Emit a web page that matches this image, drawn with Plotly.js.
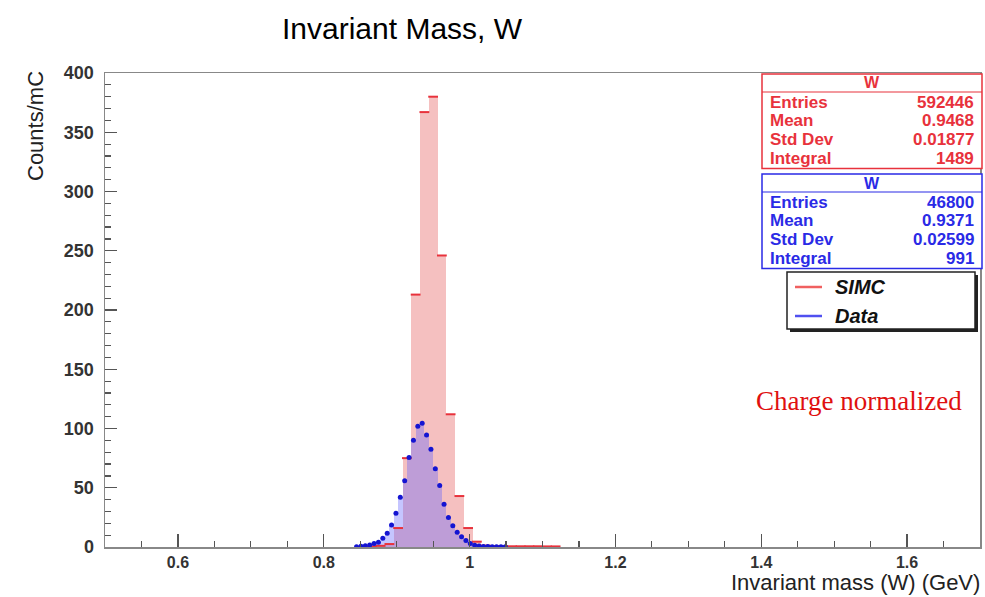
<!DOCTYPE html>
<html>
<head>
<meta charset="utf-8">
<script src="https://cdn.plot.ly/plotly-3.0.1.min.js"></script>
<style>html,body{margin:0;padding:0;background:#fff;}#chart{width:985px;height:597px;}</style>
</head>
<body>
<div id="chart"></div>
<script>
// SIMC histogram (bin width 0.012 GeV), bin centers and counts/mC
const simcX = [0.866, 0.878, 0.890, 0.902, 0.914, 0.926, 0.938, 0.950, 0.962, 0.974, 0.986, 0.998, 1.010, 1.022, 1.034, 1.046, 1.058, 1.070, 1.082, 1.094, 1.106, 1.118];
const simcY = [0.5, 1.0, 2.5, 16, 75, 213, 367, 380, 246, 112, 43, 16, 4.5, 1.2, 0.8, 0.7, 0.6, 0.6, 0.6, 0.6, 0.5, 0.5];

// Data histogram (bin width 0.006 GeV), bin centers and counts/mC
const dataX = [0.845, 0.851, 0.857, 0.863, 0.869, 0.875, 0.881, 0.887, 0.893, 0.899, 0.905, 0.911, 0.917, 0.923, 0.929, 0.935, 0.941, 0.947, 0.953, 0.959, 0.965, 0.971, 0.977, 0.983, 0.989, 0.995, 1.001, 1.007, 1.013, 1.019, 1.025, 1.031, 1.037, 1.043, 1.049];
const dataY = [0.3, 0.6, 1.0, 1.7, 3.0, 4.0, 7.3, 11.5, 18.6, 28.4, 42, 56, 75.5, 90, 102, 104.5, 94.5, 82.5, 66, 52, 36, 25, 18, 12.4, 8.7, 5.5, 3.0, 1.5, 0.9, 0.5, 0.4, 0.3, 0.3, 0.2, 0.2];

const simcStats = [["Entries", "592446"], ["Mean", "0.9468"], ["Std Dev", "0.01877"], ["Integral", "1489"]];
const dataStats = [["Entries", "46800"], ["Mean", "0.9371"], ["Std Dev", "0.02599"], ["Integral", "991"]];

// plot area in pixels
const L = 105, R = 980, T = 73, B = 547;
const px = x => (x - L) / (R - L);
const py = y => (B - y) / (B - T);

const RED = '#e8323c', BLUE = '#2a2ae6';
const SANS = 'Liberation Sans, Arial, sans-serif';

const traces = [
  {type: 'bar', x: simcX, y: simcY, width: 0.012, marker: {color: 'rgb(245,192,192)', line: {width: 0}}, hoverinfo: 'x+y', showlegend: false},
  {type: 'bar', x: dataX, y: dataY, width: 0.006, marker: {color: 'rgba(95,95,255,0.36)', line: {width: 0}}, hoverinfo: 'x+y', showlegend: false},
  {type: 'scatter', mode: 'markers', x: simcX, y: simcY, marker: {symbol: 'line-ew', size: 7, line: {color: RED, width: 2}}, showlegend: false, cliponaxis: false},
  {type: 'scatter', mode: 'markers', x: dataX, y: dataY, marker: {symbol: 'circle', size: 5, color: '#1414d2'}, showlegend: false}
];

const shapes = [];
const ann = [];
function statBox(top, color, rows) {
  const x0 = 762, x1 = 982, h = 18.6;
  const bottom = top + 18 + rows.length * h + 2;
  shapes.push({type: 'rect', xref: 'paper', yref: 'paper', x0: px(x0), x1: px(x1), y0: py(bottom), y1: py(top), line: {color: color, width: 1.5}, fillcolor: 'white', layer: 'above'});
  shapes.push({type: 'line', xref: 'paper', yref: 'paper', x0: px(x0), x1: px(x1), y0: py(top + 18), y1: py(top + 18), line: {color: color, width: 1.2}, layer: 'above'});
  ann.push({xref: 'paper', yref: 'paper', x: px((x0 + x1) / 2), y: py(top + 9), text: '<b>W</b>', showarrow: false, xanchor: 'center', yanchor: 'middle', font: {family: SANS, size: 16, color: color}});
  rows.forEach((r, i) => {
    const yy = top + 18 + h * (i + 0.5) + 1;
    ann.push({xref: 'paper', yref: 'paper', x: px(x0 + 6), y: py(yy), text: '<b>' + r[0] + '</b>', showarrow: false, xanchor: 'left', yanchor: 'middle', font: {family: SANS, size: 17, color: color}});
    ann.push({xref: 'paper', yref: 'paper', x: px(x1 - 6), y: py(yy), text: '<b>' + r[1] + '</b>', showarrow: false, xanchor: 'right', yanchor: 'middle', font: {family: SANS, size: 17, color: color}});
  });
}
statBox(74, RED, simcStats);
statBox(174, BLUE, dataStats);

// legend box with shadow
shapes.push({type: 'rect', xref: 'paper', yref: 'paper', x0: px(790), x1: px(978), y0: py(332), y1: py(275), line: {width: 0}, fillcolor: '#222', layer: 'above'});
shapes.push({type: 'rect', xref: 'paper', yref: 'paper', x0: px(787), x1: px(975), y0: py(329), y1: py(272), line: {color: '#222', width: 1.5}, fillcolor: 'white', layer: 'above'});
shapes.push({type: 'line', xref: 'paper', yref: 'paper', x0: px(795), x1: px(822), y0: py(287), y1: py(287), line: {color: '#f06060', width: 2.5}, layer: 'above'});
shapes.push({type: 'line', xref: 'paper', yref: 'paper', x0: px(795), x1: px(822), y0: py(316), y1: py(316), line: {color: '#5050f0', width: 2.5}, layer: 'above'});
ann.push({xref: 'paper', yref: 'paper', x: px(833), y: py(287), text: '<b><i>SIMC</i></b>', showarrow: false, xanchor: 'left', yanchor: 'middle', font: {family: SANS, size: 20, color: '#111'}});
ann.push({xref: 'paper', yref: 'paper', x: px(833), y: py(316), text: '<b><i>Data</i></b>', showarrow: false, xanchor: 'left', yanchor: 'middle', font: {family: SANS, size: 20, color: '#111'}});

ann.push({xref: 'paper', yref: 'paper', x: px(859), y: py(401), text: 'Charge normalized', showarrow: false, xanchor: 'center', yanchor: 'middle', font: {family: 'Liberation Serif, Times New Roman, serif', size: 27, color: '#e01010'}});

// axis titles placed like ROOT
ann.push({xref: 'paper', yref: 'paper', x: px(981), y: py(596), text: 'Invariant mass (W) (GeV)', showarrow: false, xanchor: 'right', yanchor: 'bottom', borderpad: 0, font: {family: SANS, size: 22, color: '#222'}});
ann.push({xref: 'paper', yref: 'paper', x: px(35), y: py(69), text: 'Counts/mC', showarrow: false, textangle: -90, xanchor: 'center', yanchor: 'top', font: {family: SANS, size: 22, color: '#222'}});

const layout = {
  width: 985, height: 597,
  margin: {l: L, r: 985 - R, t: T, b: 597 - B, pad: 0},
  paper_bgcolor: 'white', plot_bgcolor: 'white',
  barmode: 'overlay', bargap: 0,
  title: {text: 'Invariant Mass, W', x: 282 / 985, xanchor: 'left', y: 0.953, yanchor: 'middle', font: {family: SANS, size: 30, color: '#000'}},
  xaxis: {range: [0.5, 1.7], dtick: 0.2, tick0: 0, ticks: 'inside', ticklen: 13, tickcolor: '#555', tickwidth: 1.2,
          minor: {dtick: 0.05, ticks: 'inside', ticklen: 6, tickcolor: '#555'},
          showgrid: false, zeroline: false, showline: true, linecolor: '#888', linewidth: 1.5, mirror: true,
          tickfont: {family: SANS, size: 16, color: '#333', weight: 'bold'}, tickformat: '~g'},
  yaxis: {range: [0, 400], dtick: 50, ticks: 'inside', ticklen: 12, tickcolor: '#555', tickwidth: 1.2,
          minor: {dtick: 10, ticks: 'inside', ticklen: 6, tickcolor: '#555'},
          showgrid: false, zeroline: false, showline: true, linecolor: '#888', linewidth: 1.5, mirror: true,
          tickfont: {family: SANS, size: 18, color: '#333', weight: 'bold'}, ticklabelstandoff: 6},
  shapes: shapes,
  annotations: ann,
  showlegend: false
};

Plotly.newPlot('chart', traces, layout, {displayModeBar: false, staticPlot: true});
</script>
</body>
</html>
